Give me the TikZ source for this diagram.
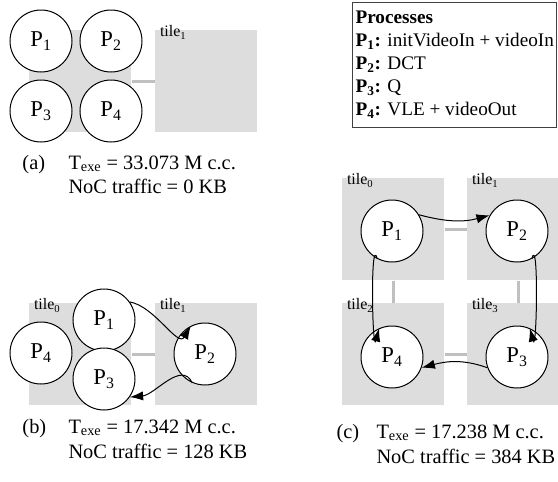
\documentclass[tikz,border=0pt]{standalone}
\usepackage{fontspec}
\setmainfont{Liberation Serif}
\usetikzlibrary{arrows.meta}

\tikzset{every picture/.style={line width=0.75pt}}
\tikzset{
  tile/.style={fill={rgb, 255:red, 221; green, 221; blue, 221}, draw=none, minimum width=76.5pt, minimum height=76.5pt, inner sep=0pt},
  link/.style={draw={rgb, 255:red, 192; green, 192; blue, 192}, line width=2.25pt},
  proc/.style={circle, draw, fill=white, minimum size=46.5pt, inner sep=0pt, font=\fontsize{17}{19}\selectfont},
  tilename/.style={anchor=north west, inner sep=0.75pt, font=\fontsize{12}{14}\selectfont},
  flow/.style={-{Latex[length=10pt,width=7pt]}, line width=0.75pt},
  capt/.style={anchor=base west, inner sep=0pt, font=\fontsize{15.3}{18}\selectfont}
}

\begin{document}
\begin{tikzpicture}[x=0.75pt,y=0.75pt,yscale=-1,xscale=1]
\path[use as bounding box, clip] (0,0) rectangle (558,482);

%Shape: Rectangle (a)
\node[tile] (ta0) at (80,81) {};
\node[tile] (ta1) at (206,81) {};
%Straight Lines
\draw[link] (ta0.east) -- (ta1.west);
% Text Node
\node[tilename] (tna1) at ([xshift=3pt,yshift=-4pt]ta1.north west) {tile\textsubscript{1}};
%Shape: Circle
\node[proc] (a1) at (41,41) {P\textsubscript{1}};
\node[proc] (a2) at (111,41) {P\textsubscript{2}};
\node[proc] (a3) at (41,111) {P\textsubscript{3}};
\node[proc] (a4) at (111,111) {P\textsubscript{4}};
% Text Node
\node[capt] (capa) at (22,169) {(a)};
\node[capt] (capa1) at (68,169) {T\textsubscript{exe} = 33.073 M c.c.};
\node[capt] (capa2) at (68,193) {NoC traffic = 0 KB};

%Shape: Rectangle (b)
\node[tile] (tb0) at (80,354) {};
\node[tile] (tb1) at (206,354) {};
%Straight Lines
\draw[link] (tb0.east) -- (tb1.west);
% Text Node
\node[tilename] (tnb0) at ([xshift=3pt,yshift=-4pt]tb0.north west) {tile\textsubscript{0}};
\node[tilename] (tnb1) at ([xshift=3pt,yshift=-4pt]tb1.north west) {tile\textsubscript{1}};
%Shape: Circle
\node[proc] (b1) at (104,320) {P\textsubscript{1}};
\node[proc] (b2) at (205,354) {P\textsubscript{2}};
\node[proc] (b3) at (104,379) {P\textsubscript{3}};
\node[proc] (b4) at (41,353) {P\textsubscript{4}};
%Curve Lines
\draw[flow] (b1.35) to[out=10,in=120] (b2.117);
\draw[flow] (b2.246) to[out=-115,in=-5] (b3.-35);
% Text Node
\node[capt] (capb) at (22,433) {(b)};
\node[capt] (capb1) at (68,433) {T\textsubscript{exe} = 17.342 M c.c.};
\node[capt] (capb2) at (68,458) {NoC traffic = 128 KB};

%Shape: Rectangle (c)
\node[tile] (tc0) at (393,229) {};
\node[tile] (tc1) at (518,229) {};
\node[tile] (tc2) at (393,354) {};
\node[tile] (tc3) at (518,354) {};
%Straight Lines
\draw[link] (tc0.east) -- (tc1.west);
\draw[link] (tc0.south) -- (tc2.north);
\draw[link] (tc1.south) -- (tc3.north);
\draw[link] (tc2.east) -- (tc3.west);
% Text Node
\node[tilename] (tnc0) at ([xshift=3pt,yshift=-4pt]tc0.north west) {tile\textsubscript{0}};
\node[tilename] (tnc1) at ([xshift=3pt,yshift=-4pt]tc1.north west) {tile\textsubscript{1}};
\node[tilename] (tnc2) at ([xshift=3pt,yshift=-4pt]tc2.north west) {tile\textsubscript{2}};
\node[tilename] (tnc3) at ([xshift=3pt,yshift=-4pt]tc3.north west) {tile\textsubscript{3}};
%Shape: Circle
\node[proc] (c1) at (392,231) {P\textsubscript{1}};
\node[proc] (c2) at (517,231) {P\textsubscript{2}};
\node[proc] (c3) at (517,357) {P\textsubscript{3}};
\node[proc] (c4) at (392,357) {P\textsubscript{4}};
%Curve Lines
\draw[flow] (c1.31) to[out=15,in=165] (c2.150);
\draw[flow] (c1.242) to[out=255,in=105] (c4.114);
\draw[flow] (c2.-62) to[out=-75,in=75] (c3.66);
\draw[flow] (c3.200) to[out=200,in=-15] (c4.-20);
% Text Node
\node[capt] (capc) at (336,438) {(c)};
\node[capt] (capc1) at (376,438) {T\textsubscript{exe} = 17.238 M c.c.};
\node[capt] (capc2) at (376,463) {NoC traffic = 384 KB};

% Text Node (legend)
\node[draw={rgb, 255:red, 64; green, 64; blue, 64}, line width=1.1pt, anchor=north west, inner xsep=1.5pt, inner ysep=6.5pt,
      minimum width=153pt, minimum height=93pt, align=left, font=\fontsize{14.4}{17.25}\selectfont] (legend) at (352,2)
  {\textbf{Processes}\\
   \textbf{P\textsubscript{1}:} initVideoIn + videoIn\\
   \textbf{P\textsubscript{2}:} DCT\\
   \textbf{P\textsubscript{3}:} Q\\
   \textbf{P\textsubscript{4}:} VLE + videoOut};

\end{tikzpicture}
\end{document}
